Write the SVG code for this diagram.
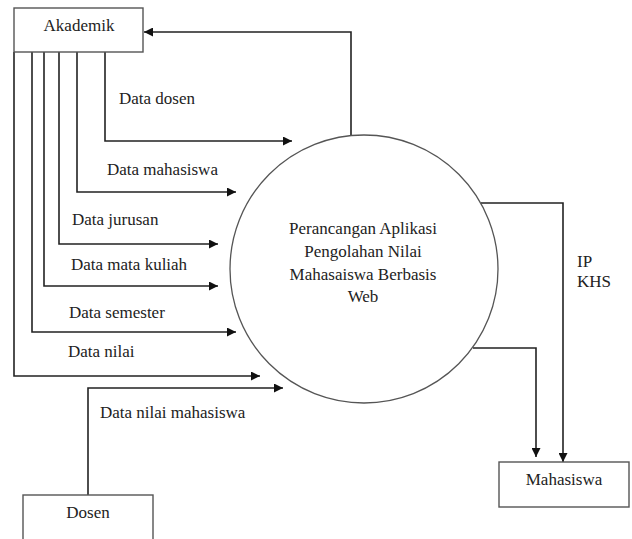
<svg xmlns="http://www.w3.org/2000/svg" width="632" height="539" viewBox="0 0 632 539">
<style>
.box{fill:#fff;stroke:#555;stroke-width:1.4}
.ln{fill:none;stroke:#222;stroke-width:1.6}
.lg{fill:none;stroke:#555;stroke-width:1.3}
.c{text-anchor:middle}
</style>
<defs>
<marker id="ah" viewBox="0 0 10 10" refX="10" refY="5" markerWidth="9" markerHeight="9" markerUnits="userSpaceOnUse" orient="auto">
<path d="M0,0 L10,5 L0,10 Z" fill="#111"/>
</marker>
</defs>
<rect width="632" height="539" fill="#fff"/>
<g font-family="'Liberation Serif', 'Times New Roman', Times, serif" font-size="17" fill="#222">
<g id="connectors">
<path class="ln" d="M351,136 V32 H144" marker-end="url(#ah)"/>
<path class="ln" d="M105,52 V141 H292" marker-end="url(#ah)"/>
<path class="ln" d="M77,52 V192 H236" marker-end="url(#ah)"/>
<path class="ln" d="M59,52 V244 H218" marker-end="url(#ah)"/>
<path class="ln" d="M44,52 V286 H218" marker-end="url(#ah)"/>
<path class="ln" d="M32,52 V332 H236" marker-end="url(#ah)"/>
<path class="ln" d="M14,52 V376 H260" marker-end="url(#ah)"/>
<path class="ln" d="M88,495 V388 H283" marker-end="url(#ah)"/>
<path class="ln" d="M481,203 H563 V462" marker-end="url(#ah)"/>
<path class="ln" d="M473,348 H536 V457" marker-end="url(#ah)"/>
<text x="119" y="104">Data dosen</text>
<text x="107" y="175">Data mahasiswa</text>
<text x="72" y="225">Data jurusan</text>
<text x="71" y="270">Data mata kuliah</text>
<text x="69" y="318">Data semester</text>
<text x="68" y="357">Data nilai</text>
<text x="100" y="418">Data nilai mahasiswa</text>
<text x="577" y="267">IP</text>
<text x="577" y="287">KHS</text>
</g>
<g id="akademik">
<rect class="box" x="14" y="8" width="129" height="44"/>
<text class="c" x="79" y="31">Akademik</text>
</g>
<g id="process">
<circle class="lg" cx="364" cy="269" r="134"/>
<text class="c" x="363" y="234">Perancangan Aplikasi</text>
<text class="c" x="363" y="257">Pengolahan Nilai</text>
<text class="c" x="363" y="280">Mahasaiswa Berbasis</text>
<text class="c" x="363" y="302">Web</text>
</g>
<g id="mahasiswa">
<rect class="box" x="499" y="462" width="130" height="45"/>
<text class="c" x="564" y="485">Mahasiswa</text>
</g>
<g id="dosen">
<rect class="box" x="23" y="495" width="130" height="50"/>
<text class="c" x="88" y="518">Dosen</text>
</g>
</g>
</svg>
